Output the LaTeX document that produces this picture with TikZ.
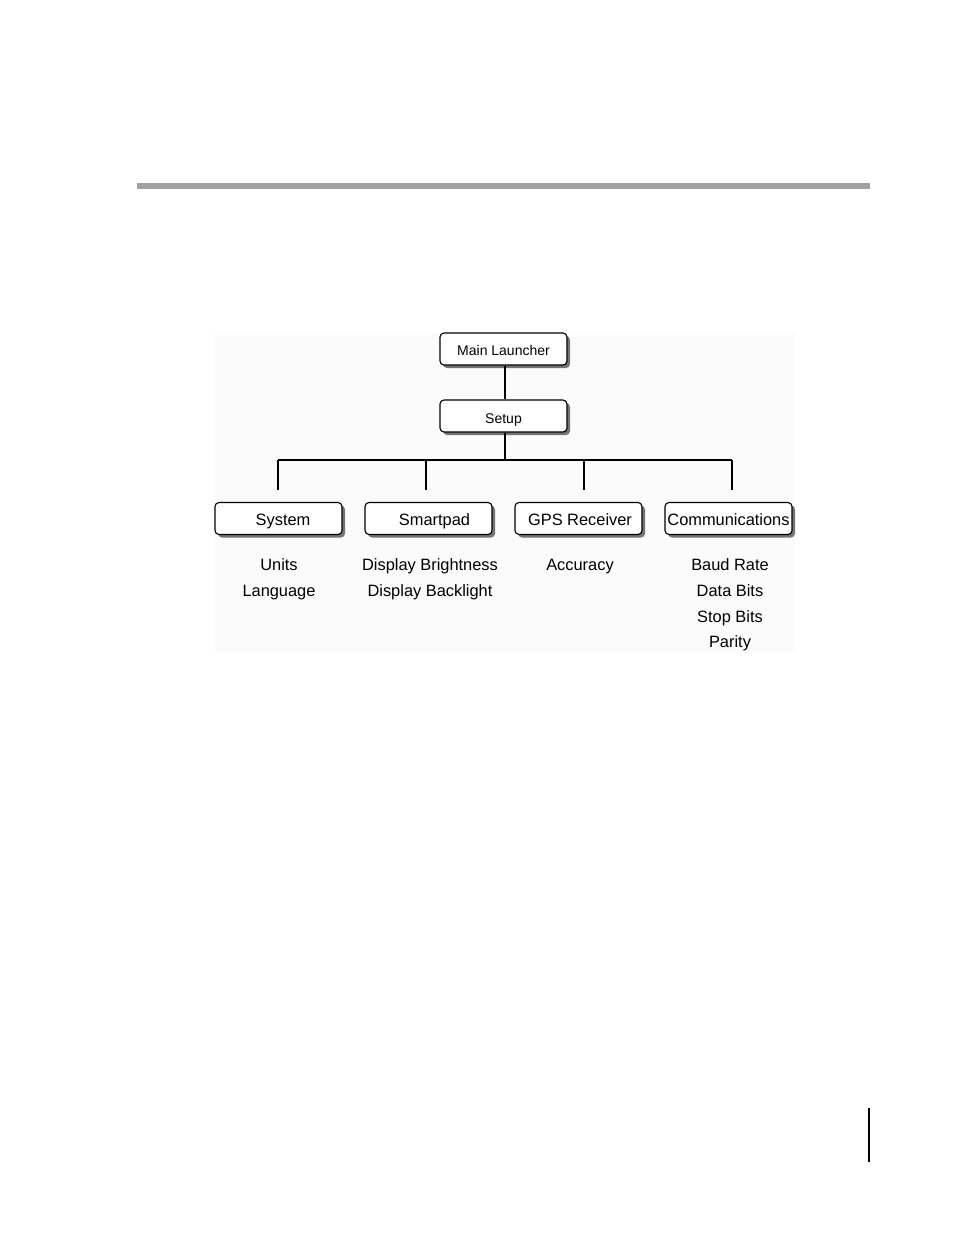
\documentclass[tikz,border=0pt]{standalone}
\usepackage{fontspec}
\setmainfont{Liberation Sans}
\usetikzlibrary{shadows}
\begin{document}
\begin{tikzpicture}[x=1pt,y=-1pt,
  box/.style={draw=black, line width=1.1pt, rounded corners=4pt, fill=white,
    minimum width=127pt, minimum height=32pt, inner sep=0pt,
    text height=15pt, text depth=1.5pt,
    font=\fontsize{16.4}{18}\selectfont,
    general shadow={fill=black!55, shadow xshift=3pt, shadow yshift=-3pt}},
  topbox/.style={box, font=\fontsize{14}{16}\selectfont, text height=13pt, text depth=0.3pt},
  item/.style={font=\fontsize{16.4}{18}\selectfont, inner sep=0pt, text height=15pt, text depth=1.5pt},
  conn/.style={line width=2pt, black}]
\useasboundingbox (0,0) rectangle (954,1235);
\fill[white] (0,0) rectangle (954,1235);
\fill[black!1.5] (215,333) rectangle (795,652);
\fill[black!37] (137,183) rectangle (870,189);
\draw[line width=1.5pt] (869,1108) -- (869,1162);

\node[topbox] (main) at (503.5,349) {Main Launcher};
\node[topbox] (setup) at (503.5,416) {\raisebox{-1pt}{Setup}};
\node[box] (sys) at (278.5,518.5) {\hspace*{9pt}System};
\node[box] (smart) at (428.5,518.5) {\hspace*{12pt}Smartpad};
\node[box] (gps) at (578.5,518.5) {\hspace*{3pt}GPS Receiver};
\node[box] (comm) at (728.5,518.5) {Communications};

\coordinate (hub) at (505,460);
\coordinate (t1) at (278,460);
\coordinate (t2) at (426,460);
\coordinate (t3) at (584,460);
\coordinate (t4) at (732,460);
\coordinate (b1) at (278,490);
\coordinate (b2) at (426,490);
\coordinate (b3) at (584,490);
\coordinate (b4) at (732,490);

\draw[conn] (main.south -| hub) -- (setup.north -| hub);
\draw[conn] (setup.south -| hub) -- (hub);
\draw[conn] (t1) -- (t4);
\draw[conn] (t1) -- (b1);
\draw[conn] (t2) -- (b2);
\draw[conn] (t3) -- (b3);
\draw[conn] (t4) -- (b4);

\node[item] (u1) at (279,564) {Units};
\node[item] (u2) at (279,590) {Language};
\node[item] (s1) at (430,564) {Display Brightness};
\node[item] (s2) at (430,590) {Display Backlight};
\node[item] (g1) at (580,564) {Accuracy};
\node[item] (c1) at (730,564) {Baud Rate};
\node[item] (c2) at (730,590) {Data Bits};
\node[item] (c3) at (730,616) {Stop Bits};
\node[item] (c4) at (730,641) {Parity};
\end{tikzpicture}
\end{document}
